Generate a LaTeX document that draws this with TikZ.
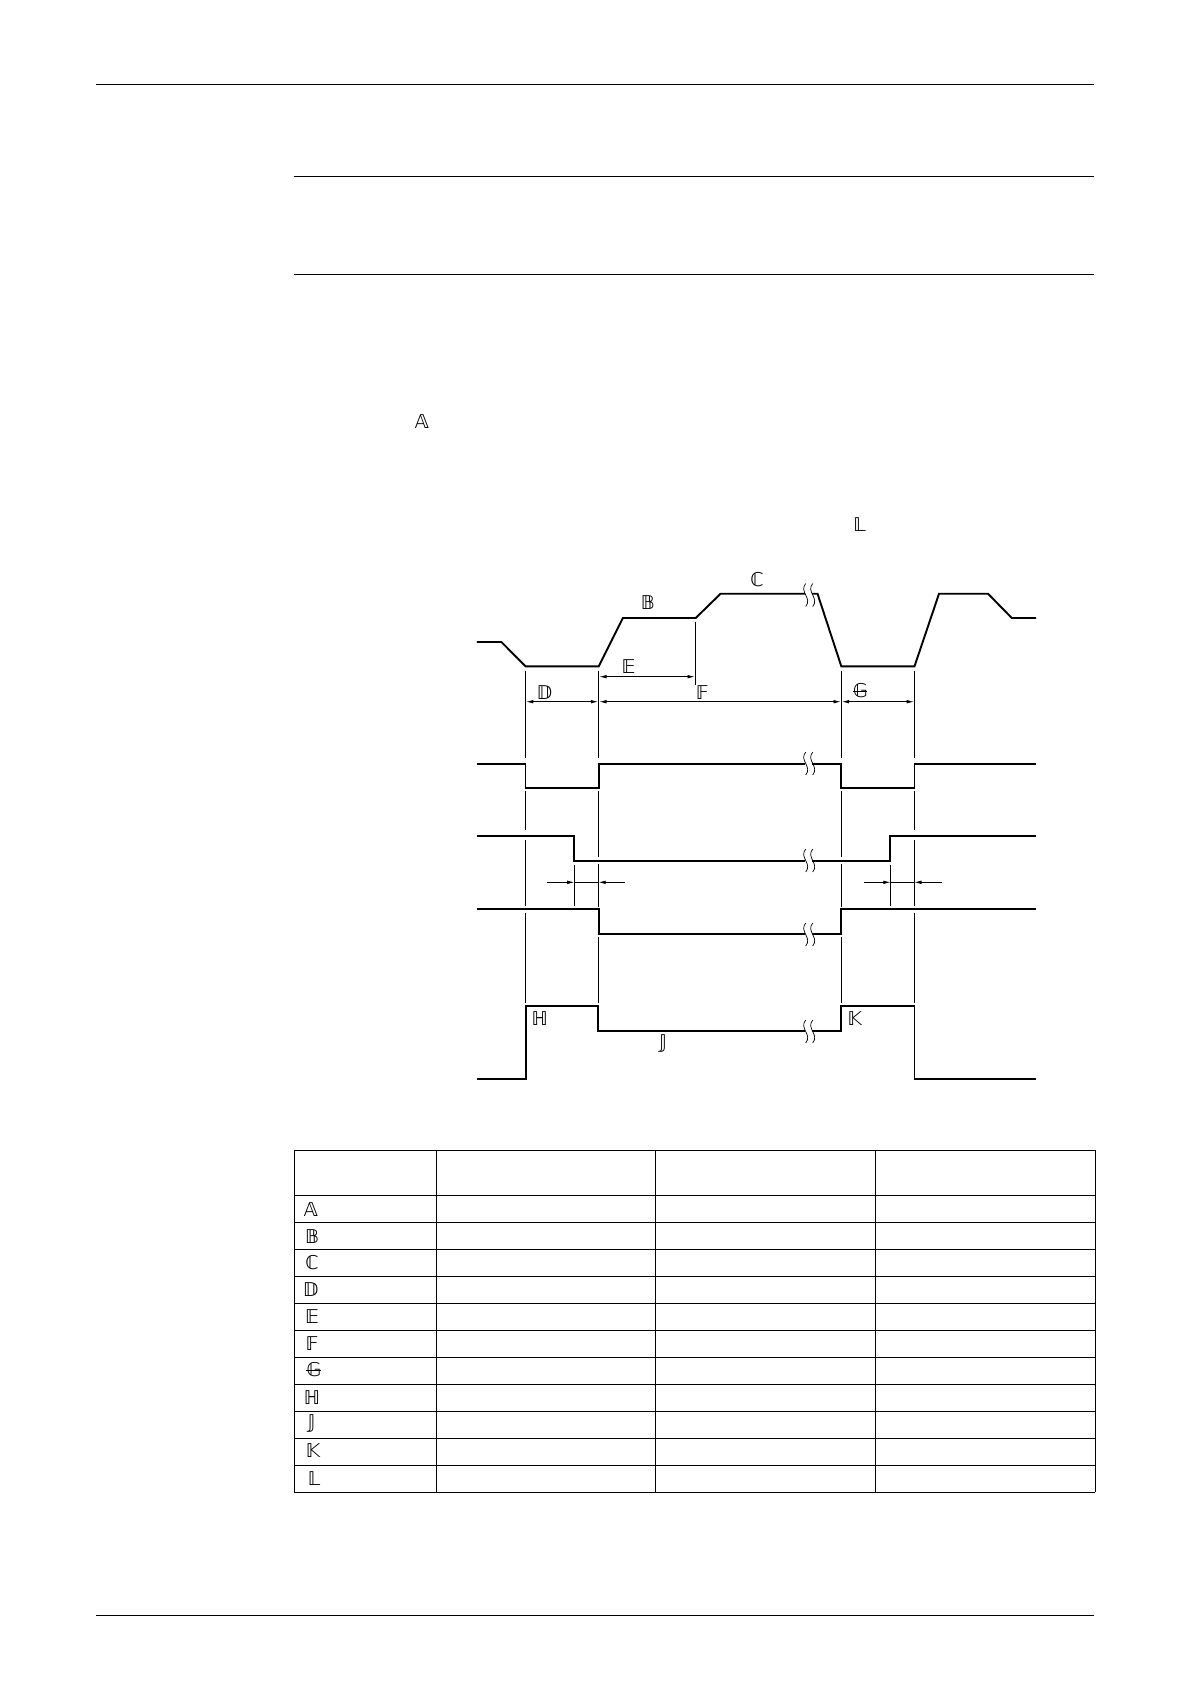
\documentclass[tikz,border=0pt]{standalone}
\usepackage{fontspec}
\newfontfamily\bbfont{DejaVu Sans}[Scale=1]
\usetikzlibrary{positioning, arrows.meta}
\tikzset{
	trace/.style={line width=1.9pt, line join=miter},
	rule/.style={line width=1.3pt},
	grid/.style={line width=1.4pt},
	thin/.style={line width=0.7pt},
	tip/.style={-{Latex[length=7pt,width=3.6pt]}},
	dim/.style={line width=0.7pt, {Latex[length=7pt,width=3.6pt]}-{Latex[length=7pt,width=3.6pt]}},
	lbl/.style={inner sep=0pt, font=\bbfont\fontsize{19}{23}\selectfont}
}
\newcommand{\breakmark}[2]{
	\fill[white] (#1-3.5,#2-10) rectangle (#1+3.5,#2+10);
	\draw[line width=0.7pt] (#1-3,#2-11.5) .. controls (#1-10,#2-3) and (#1+4,#2+3) .. (#1-3,#2+11.5);
	\draw[line width=0.7pt] (#1+4,#2-11.5) .. controls (#1-3,#2-3) and (#1+11,#2+3) .. (#1+4,#2+11.5);
}
\begin{document}
\begin{tikzpicture}[x=1pt,y=-1pt]
	\useasboundingbox (0,0) rectangle (1190,1684);
	
	\draw[rule] (96,84.3) -- (1094,84.3);
	\draw[rule] (293.7,176.3) -- (1094,176.3);
	\draw[rule] (293.7,274.3) -- (1094,274.3);
	\draw[rule] (96,1615.3) -- (1094,1615.3);
	
	\node (textA) at (422,421.7) [lbl]{𝔸};
	\node (textL) at (859.6,524.4) [lbl]{𝕃};
	
	% speed curve and the four switching lines
	\draw[trace] (476.9,642) -- (501.4,642) -- (525.5,666.3) -- (598.7,666.3) -- (622.9,618) -- (695.7,618) -- (720.6,593.7) -- (817.5,593.7) -- (841.3,666.3) -- (914.5,666.3) -- (939,593.7) -- (988,593.7) -- (1011.8,618) -- (1036,618);
	\draw[trace] (476.9,764) -- (525.5,764) -- (525.5,788) -- (598.7,788) -- (598.7,764) -- (841.3,764) -- (841.3,788) -- (914.5,788) -- (914.5,764) -- (1036,764);
	\draw[trace] (476.9,835.7) -- (574.2,835.7) -- (574.2,860.7) -- (890.3,860.7) -- (890.3,835.7) -- (1036,835.7);
	\draw[trace] (476.9,909) -- (598.7,909) -- (598.7,933.7) -- (841.3,933.7) -- (841.3,909) -- (1036,909);
	\draw[trace] (476.9,1078.7) -- (526,1078.7) -- (526,1005.7) -- (598,1005.7) -- (598,1030.7) -- (841.3,1030.7) -- (841.3,1005.7) -- (914.5,1005.7) -- (914.5,1078.7) -- (1036,1078.7);
	
	\breakmark{808.7}{595}
	\breakmark{808.7}{763.5}
	\breakmark{808.7}{860.5}
	\breakmark{808.7}{934.5}
	\breakmark{808.7}{1031.5}
	
	% thin guide lines
	\foreach \x in {525.5,914.5}{
		\draw[thin] (\x,670.7) -- (\x,758);
		\draw[thin] (\x,790.7) -- (\x,830);
		\draw[thin] (\x,840) -- (\x,906);
		\draw[thin] (\x,913) -- (\x,1003);
	}
	\foreach \x in {598.7,841.3}{
		\draw[thin] (\x,670.7) -- (\x,758);
		\draw[thin] (\x,790.7) -- (\x,857);
		\draw[thin] (\x,864) -- (\x,907);
		\draw[thin] (\x,937) -- (\x,1003);
	}
	\draw[thin] (574.2,865) -- (574.2,906);
	\draw[thin] (890.3,865) -- (890.3,906);
	\draw[thin] (695.7,621.7) -- (695.7,685);
	
	\draw[dim] (599.5,676.7) -- (694.5,676.7);
	\draw[dim] (526.3,701.7) -- (597.9,701.7);
	\draw[dim] (599.5,701.7) -- (840.5,701.7);
	\draw[dim] (842.1,701.7) -- (913.7,701.7);
	
	\draw[thin,tip] (547,882.3) -- (574.2,882.3);
	\draw[thin] (574.2,882.3) -- (598.7,882.3);
	\draw[thin,tip] (625,882.3) -- (598.7,882.3);
	\draw[thin,tip] (863.5,882.3) -- (890.3,882.3);
	\draw[thin] (890.3,882.3) -- (914.5,882.3);
	\draw[thin,tip] (941.7,882.3) -- (914.5,882.3);
	
	\node (lblB) at (647.8,602.3) [lbl]{𝔹};
	\node (lblC) at (757,579.3) [lbl]{ℂ};
	\node (lblD) at (544.3,692.3) [lbl]{𝔻};
	\node (lblE) at (628.6,666.7) [lbl]{𝔼};
	\node (lblF) at (702.2,692.7) [lbl]{𝔽};
	\node (lblG) at (860.4,691) [lbl]{𝔾};
	\node (lblH) at (539.7,1018.7) [lbl]{ℍ};
	\node (lblJ) at (663,1043.3) [lbl]{𝕁};
	\node (lblK) at (854.7,1019) [lbl]{𝕂};
	
	% bar through the G
	\draw[thin] (lblG.west) -- ++(14.5,0);
	
	% table
	\foreach \y in {1150.3,1195.3,1222.3,1249.3,1276.3,1303.3,1330.3,1357.3,1384.3,1411.3,1438.3,1465.3,1492.3}
		\draw[grid] (294.3,\y) -- (1095.3,\y);
	\foreach \x in {294.3,436.3,655.5,875.3,1095.3}
		\draw[grid] (\x,1150.3) -- (\x,1492.3);
	
	\foreach \name/\letter/\x/\y in {A/𝔸/311/1210,B/𝔹/312/1237,C/ℂ/312/1262.3,D/𝔻/310.7/1289.7,E/𝔼/312/1316.7,F/𝔽/312/1343.7,G/𝔾/314/1370,H/ℍ/312/1397.7,J/𝕁/311.7/1423.3,K/𝕂/313/1450.7,L/𝕃/314/1478.7}
		\node (row\name) at (\x,\y) [lbl]{\letter};
	\draw[thin] (rowG.west) -- ++(14.5,0);
\end{tikzpicture}
\end{document}
